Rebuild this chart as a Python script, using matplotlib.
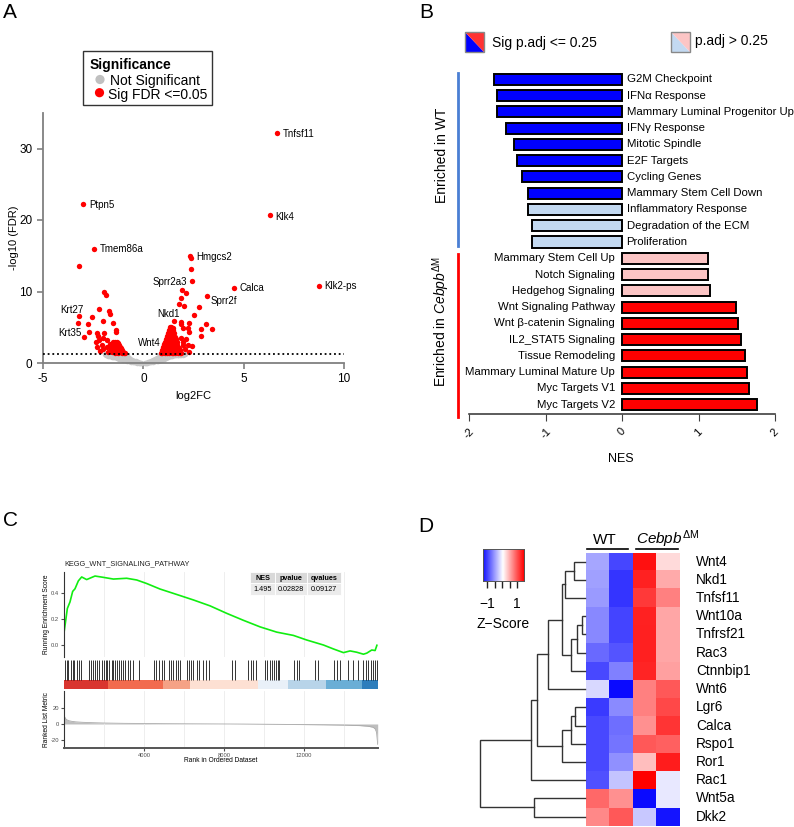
import matplotlib
matplotlib.use('Agg')
import matplotlib.pyplot as plt
import numpy as np
from matplotlib.patches import Rectangle, Polygon
from matplotlib.colors import LinearSegmentedColormap, Normalize

plt.rcParams['font.family'] = ['Liberation Sans', 'DejaVu Sans']
plt.rcParams['mathtext.fontset'] = 'custom'
plt.rcParams['mathtext.rm'] = 'Liberation Sans'
plt.rcParams['mathtext.it'] = 'Liberation Sans:italic'
plt.rcParams['mathtext.bf'] = 'Liberation Sans:bold'
plt.rcParams['axes.unicode_minus'] = False

# ---------------- Panel A data (volcano) ----------------
gray_lfc = [-1.9, -1.8, -1.75, -1.7, -1.65, -1.6, -1.55, -1.5, -1.5, -1.45,
            -1.4, -1.4, -1.35, -1.3, -1.3, -1.25, -1.2, -1.2, -1.15, -1.1,
            -1.1, -1.05, -1.0, -1.0, -0.95, -0.9, -0.9, -0.85, -0.8, -0.8,
            -0.75, -0.7, -0.7, -0.65, -0.6, -0.55, -0.5, -0.45, -0.4, -0.35,
            -0.3, -0.2, -0.1,
            0.1, 0.2, 0.3, 0.35, 0.4, 0.45, 0.5, 0.55, 0.6, 0.6,
            0.65, 0.7, 0.7, 0.75, 0.8, 0.8, 0.85, 0.85, 0.9, 0.95,
            0.95, 1.0, 1.05, 1.05, 1.1, 1.15, 1.2, 1.25, 1.3, 1.35,
            1.4, 1.45, 1.5, 1.55, 1.6, 1.65, 1.7, 1.75, 1.8, 1.85,
            1.9, 1.95, 2.0, 2.05,
            -1.85, -1.75, -1.6, -1.55, -1.45, -1.35, -1.3, -1.2, -1.15, -1.05,
            -1.05, -0.95, -0.9, -0.85, -0.8, -0.75, -0.7, -0.65, -0.6, -0.55,
            -0.5, -0.45, -0.38, -0.25, -0.15,
            0.15, 0.25, 0.3, 0.4, 0.5, 0.55, 0.65, 0.7, 0.75, 0.8,
            0.9, 0.9, 1.0, 1.0, 1.1, 1.1, 1.2, 1.3, 1.4, 1.5,
            1.6, 1.75, 1.9, 2.1]
gray_fdr = [1.2, 1.1, 1.25, 1.0, 1.2, 0.95, 1.15, 0.9, 1.25, 1.05,
            0.8, 1.2, 0.95, 0.7, 1.1, 0.85, 0.6, 1.0, 0.75, 0.5,
            0.9, 1.2, 0.45, 0.7, 1.0, 0.35, 0.6, 0.85, 0.3, 1.1,
            0.5, 0.25, 0.7, 0.4, 0.2, 0.35, 0.15, 0.25, 0.1, 0.18,
            0.06, 0.04, 0.02,
            0.02, 0.05, 0.08, 0.2, 0.12, 0.3, 0.18, 0.4, 0.25, 0.55,
            0.35, 0.7, 0.45, 0.3, 0.9, 0.55, 1.1, 0.4, 0.7, 1.0,
            0.5, 0.8, 1.2, 0.6, 0.95, 0.7, 1.1, 0.85, 1.2, 0.95,
            1.15, 1.0, 1.25, 1.05, 1.2, 1.1, 1.25, 1.15, 1.2, 1.1,
            1.25, 1.2, 1.15, 1.25,
            1.05, 0.95, 1.1, 0.85, 0.9, 1.1, 0.85, 0.8, 1.1, 0.6,
            0.9, 0.75, 0.5, 0.6, 0.45, 0.75, 0.4, 0.55, 0.35, 0.25,
            0.3, 0.12, 0.22, 0.1, 0.05,
            0.06, 0.12, 0.2, 0.28, 0.35, 0.22, 0.55, 0.3, 0.6, 0.4,
            0.9, 0.45, 1.0, 0.6, 1.15, 0.75, 0.9, 1.0, 0.95, 1.1,
            1.05, 1.05, 1.1, 1.2]

sig_lfc = [-2.99, -2.44, -3.21, -1.96, -1.88, -2.19, -1.71, -1.66, -2.54, -3.21,
           -3.27, -2.74, -1.99, -1.53, -1.38, -1.35, -2.97, -2.72, -2.32, -2.27,
           -1.96, -2.01, -2.19, -1.83, -2.37, -2.32, -2.08, -1.83, -1.66, -1.58,
           -2.0, -1.75, -2.15,
           -1.5, -1.42, -1.33, -1.25, -1.2, -1.15, -1.1, -1.05, -1.0, -0.95,
           -0.9, -1.47, -1.38, -1.3, -1.25, -1.2, -1.15, -1.1, -1.05, -1.35,
           -1.3, -1.25, -1.45, -1.55, -1.4, -1.5, -1.6,
           6.66, 6.31, 2.34, 2.36, 2.36, 2.41, 4.53, 8.73, 3.17, 1.94,
           2.13, 1.88, 1.78, 2.01, 2.77, 2.52, 1.51, 1.86, 1.86, 2.26,
           3.11, 3.42, 2.89, 2.89, 2.24, 2.26, 1.96, 1.9, 2.15, 1.96,
           2.24, 2.41, 1.83, 2.1, 2.3, 2.0,
           0.88, 0.95, 1.02, 1.1, 1.18, 1.26, 1.34, 1.42, 1.5, 1.58, 1.66, 1.74, 1.82, 1.9,
           0.95, 1.03, 1.11, 1.19, 1.27, 1.35, 1.43, 1.51, 1.59, 1.67, 1.75, 1.85,
           1.0, 1.08, 1.16, 1.24, 1.32, 1.4, 1.48, 1.56, 1.64, 1.72, 1.8,
           1.05, 1.13, 1.21, 1.29, 1.37, 1.45, 1.53, 1.61, 1.7,
           1.1, 1.18, 1.26, 1.34, 1.42, 1.5, 1.58, 1.66,
           1.14, 1.22, 1.3, 1.38, 1.46, 1.54, 1.62,
           1.18, 1.26, 1.34, 1.42, 1.5, 1.58,
           1.22, 1.3, 1.38, 1.46, 1.54,
           1.26, 1.34, 1.42, 1.5,
           1.32, 1.4, 1.48]
sig_fdr = [22.3, 16.0, 13.5, 9.97, 9.5, 7.55, 7.3, 6.85, 6.48, 6.6,
           5.55, 5.45, 5.9, 5.65, 4.6, 4.3, 3.6, 4.3, 4.15, 3.8,
           4.15, 3.55, 3.2, 3.2, 3.0, 2.3, 2.5, 2.3, 2.6, 2.05,
           1.9, 1.6, 1.7,
           2.9, 3.0, 2.95, 2.8, 2.55, 2.3, 2.05, 1.8, 1.6, 1.45,
           1.35, 2.6, 2.5, 2.3, 2.1, 1.9, 1.7, 1.5, 1.38, 1.9,
           1.65, 1.45, 1.8, 1.55, 1.4, 2.2, 1.9,
           32.2, 20.65, 15.0, 14.7, 13.2, 11.4, 10.5, 10.8, 9.4, 10.2,
           9.8, 9.1, 8.3, 8.0, 7.9, 6.75, 5.9, 5.8, 5.4, 5.6,
           5.5, 4.7, 4.7, 3.8, 4.85, 4.3, 4.85, 3.5, 3.3, 2.5,
           2.5, 2.4, 1.7, 1.9, 1.6, 3.0,
           1.45, 1.4, 1.5, 1.38, 1.45, 1.42, 1.5, 1.4, 1.46, 1.42, 1.48, 1.4, 1.44, 1.38,
           1.8, 1.85, 1.78, 1.82, 1.86, 1.8, 1.84, 1.78, 1.82, 1.86, 1.8, 1.75,
           2.2, 2.25, 2.18, 2.22, 2.2, 2.26, 2.18, 2.22, 2.2, 2.16, 2.1,
           2.6, 2.62, 2.58, 2.64, 2.6, 2.56, 2.62, 2.6, 2.5,
           3.0, 3.02, 2.98, 3.04, 3.0, 2.96, 3.02, 2.9,
           3.4, 3.42, 3.38, 3.44, 3.4, 3.36, 3.3,
           3.8, 3.82, 3.78, 3.84, 3.8, 3.7,
           4.2, 4.22, 4.18, 4.24, 4.15,
           4.6, 4.62, 4.58, 4.55,
           5.0, 5.1, 4.95]

label_genes = ['Tnfsf11', 'Ptpn5', 'Klk4', 'Tmem86a', 'Hmgcs2', 'Sprr2a3', 'Calca',
               'Klk2-ps', 'Sprr2f', 'Nkd1', 'Krt27', 'Krt35', 'Wnt4']
label_x = [6.96, -2.71, 6.56, -2.16, 2.62, 2.17, 4.77, 9.0, 3.37, 1.83, -3.0, -3.06, 0.88]
label_y = [32.0, 22.1, 20.4, 15.9, 14.8, 11.3, 10.5, 10.7, 8.7, 6.9, 7.4, 4.2, 2.8]
label_ha = ['left', 'left', 'left', 'left', 'left', 'right', 'left', 'left', 'left',
            'right', 'right', 'right', 'right']
fdr_threshold = 1.3

# ---------------- Panel B data (GSEA NES bars) ----------------
b_terms = ['G2M Checkpoint', 'IFNα Response', 'Mammary Luminal Progenitor Up',
           'IFNγ Response', 'Mitotic Spindle', 'E2F Targets', 'Cycling Genes',
           'Mammary Stem Cell Down', 'Inflammatory Response', 'Degradation of the ECM',
           'Proliferation', 'Mammary Stem Cell Up', 'Notch Signaling', 'Hedgehog Signaling',
           'Wnt Signaling Pathway', 'Wnt β-catenin Signaling', 'IL2_STAT5 Signaling',
           'Tissue Remodeling', 'Mammary Luminal Mature Up', 'Myc Targets V1', 'Myc Targets V2']
b_nes = [-1.67, -1.64, -1.63, -1.51, -1.41, -1.37, -1.31, -1.23, -1.23, -1.18, -1.17,
         1.12, 1.12, 1.15, 1.49, 1.52, 1.55, 1.61, 1.64, 1.66, 1.76]
b_sig = [True, True, True, True, True, True, True, True, False, False, False,
         False, False, False, True, True, True, True, True, True, True]

# ---------------- Panel C data (GSEA running score) ----------------
es_rank = [0, 5, 100, 167, 300, 433, 550, 717, 883, 1133, 1550, 1967, 2467, 3133, 3633,
           4133, 4800, 5467, 6467, 7300, 8133, 8967, 9800, 10633, 11467, 12133, 12967,
           13467, 13967, 14300, 14633, 14967, 15133, 15383, 15550, 15640]
es_score = [0.0, 0.10, 0.205, 0.28, 0.33, 0.41, 0.43, 0.49, 0.52, 0.50, 0.527, 0.517,
            0.504, 0.51, 0.497, 0.47, 0.428, 0.395, 0.345, 0.30, 0.243, 0.19, 0.14,
            0.10, 0.075, 0.04, 0.002, -0.028, -0.056, -0.043, -0.053, -0.068, -0.06,
            -0.036, -0.04, 0.0]
hit_ranks = [50, 133, 217, 333, 433, 500, 633, 733, 850,
             1267, 1333, 1433, 1533, 1633, 1767, 1883, 1983, 2100, 2167,
             2267, 2383, 2467, 2567, 2667, 2767, 2867, 2967, 3067, 3183, 3300, 3433,
             3767, 4500, 4600, 4767, 4883, 5000,
             5267, 5367, 5467, 5583, 5683, 5800,
             6167, 6267, 6333, 6467, 6633, 6767, 6933, 7100, 7267,
             8417, 8550, 9217, 9333, 9433, 9600,
             10050, 10167, 10300, 10417, 10500, 10600, 10700, 10767,
             11500, 11633, 11767, 12550, 12717, 13500, 13667, 13800,
             14217, 14467, 14717, 14933, 15100, 15217, 15333, 15433, 15550, 15633]
rank_bins = [0, 2217, 4950, 6300, 9700, 11200, 13100, 14900, 15680]
rank_colors = ['#D9352F', '#F26B4E', '#F5A286', '#FDE0D3', '#E9F0F8', '#B8D4E9',
               '#6AAED6', '#2E7EBC']
metric_rank = [0, 30, 80, 150, 250, 400, 600, 900, 1300, 2000, 3000, 5000, 7000, 9000,
               11000, 13000, 14000, 14800, 15200, 15450, 15550, 15620, 15680]
metric_value = [12, 9, 6.5, 5, 4, 3.2, 2.6, 2.1, 1.7, 1.2, 0.8, 0.4, 0.15, -0.1,
                -0.5, -1.0, -1.4, -2.0, -2.8, -4, -6, -10, -25]
gsea_stats = ['1.495', '0.02828', '0.09127']
gsea_heads = ['NES', 'pvalue', 'qvalues']

# ---------------- Panel D data (heatmap) ----------------
d_genes = ['Wnt4', 'Nkd1', 'Tnfsf11', 'Wnt10a', 'Tnfrsf21', 'Rac3', 'Ctnnbip1', 'Wnt6',
           'Lgr6', 'Calca', 'Rspo1', 'Ror1', 'Rac1', 'Wnt5a', 'Dkk2']
d_z = [[-0.49, -1.01, 1.31, 0.20],
       [-0.52, -1.11, 1.21, 0.47],
       [-0.55, -1.11, 1.08, 0.70],
       [-0.65, -1.02, 1.21, 0.49],
       [-0.65, -1.02, 1.22, 0.49],
       [-0.82, -0.93, 1.22, 0.49],
       [-1.00, -0.70, 1.20, 0.52],
       [-0.21, -1.34, 0.70, 0.91],
       [-1.08, -0.64, 0.70, 1.00],
       [-1.00, -0.79, 0.61, 1.11],
       [-1.00, -0.76, 0.91, 0.87],
       [-1.00, -0.61, 0.35, 1.24],
       [-0.96, -0.32, 1.40, -0.13],
       [0.83, 0.61, -1.34, -0.13],
       [0.65, 0.91, -0.30, -1.28]]
# dendrogram merges: (child a, child b, height); ints refer to earlier merges
d_merges = [('Wnt4', 'Nkd1', 10.7), (0, 'Tnfsf11', 20.0), ('Wnt10a', 'Tnfrsf21', 3.3),
            (2, 'Rac3', 8.3), (3, 'Ctnnbip1', 14.3), (1, 4, 22.7), (5, 'Wnt6', 36.7),
            ('Lgr6', 'Calca', 10.0), (7, 'Rspo1', 14.0), (8, 'Ror1', 23.3),
            (6, 9, 47.7), (10, 'Rac1', 54.0), ('Wnt5a', 'Dkk2', 50.7), (11, 12, 105.0)]

# ---------------- Figure ----------------
W, H = 794, 827
fig = plt.figure(figsize=(W / 100, H / 100), dpi=100)


def rect(l, t, r, b):
    return [l / W, 1 - b / H, (r - l) / W, (b - t) / H]


# ===== Panel A =====
axA = fig.add_axes(rect(43, 112.75, 344, 363))
axA.scatter(gray_lfc, gray_fdr, s=16, c='#C8C8C8', linewidths=0, zorder=2, clip_on=False)
axA.scatter(sig_lfc, sig_fdr, s=15, c='#FF0000', linewidths=0, zorder=3, clip_on=False)
axA.axhline(fdr_threshold, color='black', ls=(0, (1, 1.6)), lw=1.3, zorder=4)
for g, x, y, ha in zip(label_genes, label_x, label_y, label_ha):
    axA.text(x, y, g, ha=ha, va='center', fontsize=7)
axA.set_xlim(-5, 10)
axA.set_ylim(0, 35)
for s in ['top', 'right']:
    axA.spines[s].set_visible(False)
for s in ['left', 'bottom']:
    axA.spines[s].set_color('#808080')
    axA.spines[s].set_linewidth(1.3)
axA.set_xticks([-5, 0, 5, 10])
axA.set_yticks([0, 10, 20, 30])
axA.tick_params(direction='out', length=4, color='#808080', labelsize=8.5, width=1.2)

# ===== Panel B =====
axB = fig.add_axes(rect(469, 71, 775, 414))
n = len(b_terms)
ypos = np.arange(n)[::-1]
cols = []
for v, s in zip(b_nes, b_sig):
    if v < 0:
        cols.append('#0000FF' if s else '#C3D9F1')
    else:
        cols.append('#FF0000' if s else '#FCC5C5')
axB.barh(ypos, b_nes, height=0.68, color=cols, edgecolor='black', linewidth=1.4)
for y, t, v in zip(ypos, b_terms, b_nes):
    if v < 0:
        axB.text(0.06, y, t, ha='left', va='center', fontsize=8.2)
    else:
        axB.text(-0.09, y, t, ha='right', va='center', fontsize=8.2)
axB.set_xlim(-2, 2)
axB.set_ylim(-0.57, 20.51)
for s in ['top', 'right', 'left']:
    axB.spines[s].set_visible(False)
axB.spines['bottom'].set_color('#404040')
axB.spines['bottom'].set_linewidth(1.2)
axB.set_yticks([])
axB.set_xticks([-2, -1, 0, 1, 2])
axB.set_xticklabels(['-2', '-1', '0', '1', '2'], rotation=45)
axB.tick_params(axis='x', direction='out', length=5, color='#404040', labelsize=8, pad=4)

# ===== Panel C =====
xmax = 15680
axC1 = fig.add_axes(rect(64, 571.7, 377.7, 656.7))
axC1.plot(es_rank, es_score, color='#11EE11', lw=1.2)
axC1.set_xlim(0, xmax)
axC1.set_ylim(-0.087, 0.56)
axC1.set_yticks([0.0, 0.2, 0.4])
axC1.set_yticklabels(['0.0', '0.2', '0.4'])
axC1.set_xticks(np.arange(2000, 16000, 2000))
axC1.set_xticklabels([])
axC1.tick_params(axis='x', length=0)
axC1.tick_params(axis='y', length=2, labelsize=4.2, colors='#4D4D4D', pad=1.5)
axC1.grid(axis='x', color='#EBEBEB', lw=0.6)
for s in ['top', 'right', 'bottom']:
    axC1.spines[s].set_visible(False)
axC1.spines['left'].set_color('#333333')
axC1.spines['left'].set_linewidth(0.8)

axC2 = fig.add_axes(rect(64, 660, 377.7, 689.3))
axC2.vlines(hit_ranks, 0.32, 1.0, color='black', lw=0.7, alpha=0.8)
for i in range(len(rank_colors)):
    axC2.axvspan(rank_bins[i], rank_bins[i + 1], ymin=0, ymax=0.32, color=rank_colors[i], lw=0)
axC2.set_xlim(0, xmax)
axC2.set_ylim(0, 1)
axC2.axis('off')

axC3 = fig.add_axes(rect(64, 690.7, 377.7, 748.3))
axC3.fill_between(metric_rank, metric_value, 0, color='#BEBEBE', lw=0)
axC3.plot(metric_rank, metric_value, color='#AAAAAA', lw=0.6)
axC3.set_xlim(0, xmax)
axC3.set_ylim(-29.8, 40.8)
axC3.set_yticks([-20, 0, 20])
axC3.set_xticks([4000, 8000, 12000])
axC3.set_xticks([2000, 6000, 10000, 14000], minor=True)
axC3.grid(axis='x', which='both', color='#EBEBEB', lw=0.6)
axC3.tick_params(axis='both', which='major', length=2, labelsize=4.2, colors='#4D4D4D', pad=1.5)
axC3.tick_params(axis='x', which='minor', length=0)
for s in ['top', 'right']:
    axC3.spines[s].set_visible(False)
axC3.spines['left'].set_color('#333333')
axC3.spines['left'].set_linewidth(0.8)
axC3.spines['bottom'].set_color('#555555')
axC3.spines['bottom'].set_linewidth(1.4)

# ===== Panel D =====
cmap = LinearSegmentedColormap.from_list('bluered', ['#0000FF', '#FFFFFF', '#FF0000'])
norm = Normalize(vmin=-1.4, vmax=1.4)
axH = fig.add_axes(rect(586, 552.5, 679.3, 825.7))
axH.imshow(np.array(d_z), cmap=cmap, norm=norm, aspect='auto', interpolation='nearest',
           extent=(0, 4, len(d_genes), 0))
axH.set_xlim(0, 4)
axH.set_ylim(len(d_genes), 0)
axH.axis('off')
for i, g in enumerate(d_genes):
    axH.text(4.72, i + 0.5, g, ha='left', va='center', fontsize=9.8, clip_on=False)

axDen = fig.add_axes(rect(480, 552.5, 585, 825.7))
pos = {g: (i + 0.5, 0.0) for i, g in enumerate(d_genes)}
merged = []
for a, b, h in d_merges:
    ya, ha_ = merged[a] if isinstance(a, int) else pos[a]
    yb, hb_ = merged[b] if isinstance(b, int) else pos[b]
    axDen.plot([ha_, h, h, hb_], [ya, ya, yb, yb], color='#333333', lw=1.0,
               solid_joinstyle='miter', clip_on=False)
    merged.append(((ya + yb) / 2, h))
axDen.set_xlim(105, 0)
axDen.set_ylim(len(d_genes), 0)
axDen.axis('off')

axK = fig.add_axes(rect(482.7, 549.3, 524, 580.7))
grad = np.linspace(-1.31, 1.45, 256).reshape(1, -1)
axK.imshow(grad, cmap=cmap, norm=norm, aspect='auto', extent=(-1.31, 1.45, 0, 1))
axK.set_xlim(-1.31, 1.45)
axK.set_yticks([])
axK.set_xticks([-1, -0.5, 0, 0.5, 1])
axK.set_xticklabels([])
axK.tick_params(axis='x', direction='out', length=5, width=1.0, color='#222222')
for s in axK.spines.values():
    s.set_color('#555555')
    s.set_linewidth(0.7)

# ===== Overlay (labels, legends, annotations) in pixel coords =====
ov = fig.add_axes([0, 0, 1, 1])
ov.set_xlim(0, W)
ov.set_ylim(H, 0)
ov.axis('off')
ov.patch.set_alpha(0)

# panel letters
for lt, x, y in [('A', 10, 13), ('B', 426, 13), ('C', 10.5, 521), ('D', 426, 526)]:
    ov.text(x, y, lt, fontsize=15, ha='center', va='center')

# Panel A labels & legend
ov.text(14, 238, '-log10 (FDR)', rotation=90, ha='center', va='center', fontsize=8)
ov.text(193, 396, 'log2FC', ha='center', va='center', fontsize=8)
ov.add_patch(Rectangle((83, 51), 129, 54, fill=False, edgecolor='#333333', lw=1.0))
ov.text(90, 65.5, 'Significance', fontsize=10, fontweight='bold', ha='left', va='center')
ov.scatter([100, 99.5], [79.5, 92.7], s=44, c=['#C0C0C0', '#FF0000'], linewidths=0)
ov.text(110, 80.5, 'Not Significant', fontsize=10, ha='left', va='center')
ov.text(107.5, 94.5, 'Sig FDR <=0.05', fontsize=10, ha='left', va='center')

# Panel B legend
ov.add_patch(Polygon([(465, 32), (465, 52), (484, 52)], closed=True, facecolor='#0000FF', lw=0))
ov.add_patch(Polygon([(465, 32), (484, 32), (484, 52)], closed=True, facecolor='#FF3333', lw=0))
ov.add_patch(Rectangle((465, 32), 19, 20, fill=False, edgecolor='#888888', lw=1.0))
ov.text(491.5, 42.5, 'Sig p.adj <= 0.25', fontsize=10, ha='left', va='center')
ov.add_patch(Polygon([(670.5, 32), (670.5, 52), (689.5, 52)], closed=True, facecolor='#C3D9F1', lw=0))
ov.add_patch(Polygon([(670.5, 32), (689.5, 32), (689.5, 52)], closed=True, facecolor='#FCC5C5', lw=0))
ov.add_patch(Rectangle((670.5, 32), 19, 20, fill=False, edgecolor='#888888', lw=1.0))
ov.text(695, 40.5, 'p.adj > 0.25', fontsize=10, ha='left', va='center')
ov.plot([458, 458], [73, 246], color='#4A7FD4', lw=2)
ov.plot([458, 458], [254, 417], color='#FF0000', lw=2)
ov.text(441.5, 155, 'Enriched in WT', rotation=90, fontsize=10, ha='center', va='center')
ov.text(441.5, 322, r'Enriched in $\mathit{Cebpb}^{\mathrm{\Delta M}}$', rotation=90,
        fontsize=10, ha='center', va='center')
ov.text(621, 459, 'NES', fontsize=9, ha='center', va='center')

# Panel C labels and table
ov.text(64, 564, 'KEGG_WNT_SIGNALING_PATHWAY', fontsize=5.3, ha='left', va='center', color='#222222')
ov.text(46.5, 614, 'Running Enrichment Score', rotation=90, fontsize=4.8, ha='center', va='center')
ov.text(46.5, 720, 'Ranked List Metric', rotation=90, fontsize=4.8, ha='center', va='center')
ov.text(221, 760.5, 'Rank in Ordered Dataset', fontsize=4.8, ha='center', va='center')
cell_x = [250, 275, 306.7, 340.7]
for i in range(3):
    ov.add_patch(Rectangle((cell_x[i], 572.3), cell_x[i + 1] - cell_x[i], 11, facecolor='#D9D9D9',
                           edgecolor='white', lw=0.6))
    ov.add_patch(Rectangle((cell_x[i], 583.3), cell_x[i + 1] - cell_x[i], 11.7, facecolor='#EBEBEB',
                           edgecolor='white', lw=0.6))
    cx = (cell_x[i] + cell_x[i + 1]) / 2
    ov.text(cx, 578, gsea_heads[i], fontsize=5.2, fontweight='bold', ha='center', va='center')
    ov.text(cx, 589.3, gsea_stats[i], fontsize=5.2, ha='center', va='center')

# Panel D headers and key labels
ov.text(605, 540, 'WT', fontsize=11, ha='center', va='center')
ov.text(636, 539, r'$\mathit{Cebpb}^{\mathrm{\Delta M}}$', fontsize=11, ha='left', va='center')
ov.plot([586.7, 627.7], [548.7, 548.7], color='black', lw=1.2)
ov.plot([636, 678.3], [548.7, 548.7], color='black', lw=1.2)
ov.text(487.3, 604, '\u22121', fontsize=10, ha='center', va='center')
ov.text(517.3, 604, '1', fontsize=10, ha='center', va='center')
ov.text(503, 624, 'Z\u2212Score', fontsize=10, ha='center', va='center')

fig.savefig('out.png', dpi=100)
